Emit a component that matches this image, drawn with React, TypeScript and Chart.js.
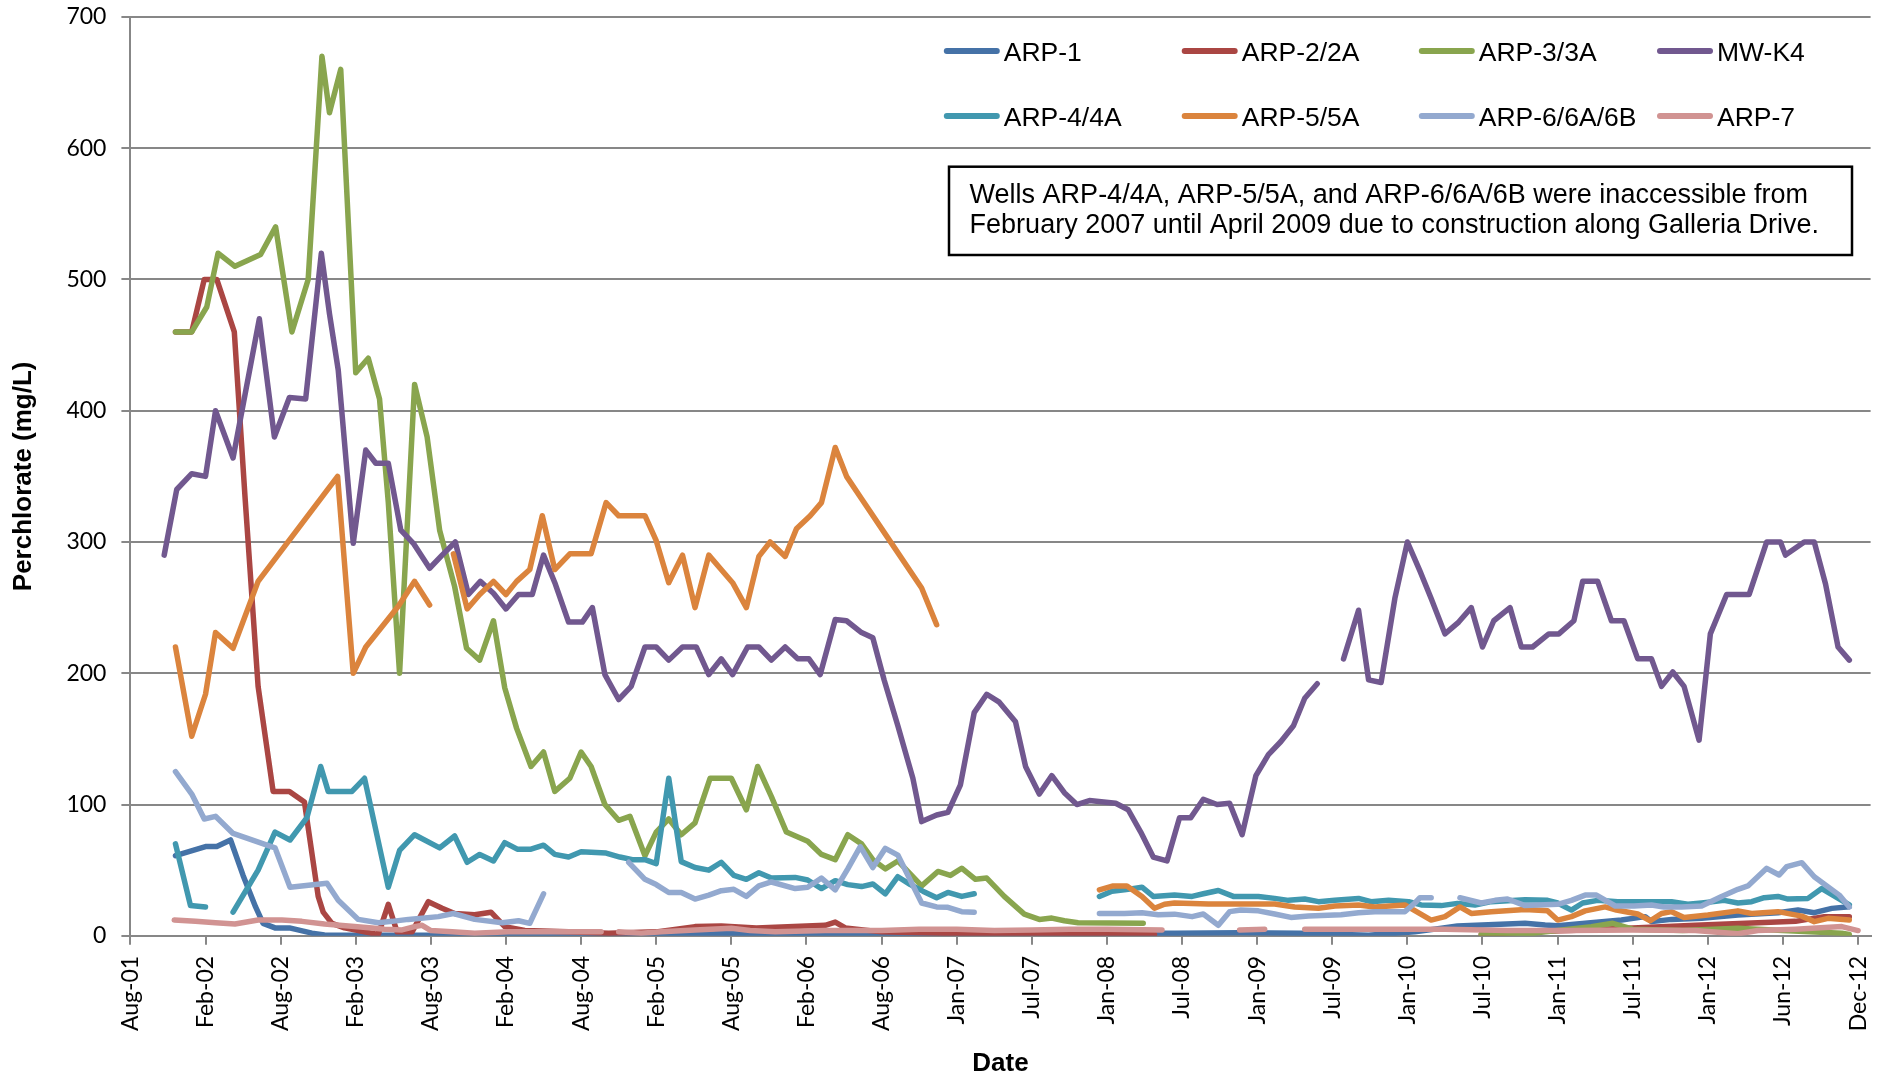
import React, { useEffect, useRef } from "react";
import { Chart, registerables } from "chart.js";

Chart.register(...registerables);

// Axis tick labels (one every 6 months along the x axis)
const tickLabels = [
  "Aug-01", "Feb-02", "Aug-02", "Feb-03", "Aug-03", "Feb-04", "Aug-04", "Feb-05",
  "Aug-05", "Feb-06", "Aug-06", "Jan-07", "Jul-07", "Jan-08", "Jul-08", "Jan-09",
  "Jul-09", "Jan-10", "Jul-10", "Jan-11", "Jul-11", "Jan-12", "Jun-12", "Dec-12",
];
const MONTHS_PER_TICK = 6;
const X_MAX = 139; // months after the Aug-01 tick
const Y_MAX = 700;
const Y_STEP = 100;

// x = months after the Aug-01 tick, y = perchlorate (mg/L); null = gap in record
type Pt = [number, number] | null;

const arp1: Pt[] = [
  [3.6, 61], [5.0, 65], [6.0, 68], [6.9, 68], [8.0, 73], [9.0, 46], [10.0, 22], [10.6, 9.5],
  [11.55, 6], [12.7, 6], [14.5, 2], [15.5, 0.6], [20, 0.5], [25, 0.5], [30, 0.8], [35, 0.5],
  [40, 0.5], [45, 1], [48, 2], [50, 1], [55, 1.5], [60, 1], [65, 1], [70, 1.5], [75, 2],
  [80, 2], [83.4, 2], [88.7, 2.4], [93.5, 2], [98.9, 0.5], [102.6, 3], [106, 7.5],
  [111.4, 9.5], [113, 8.2], [114, 7.7], [116.2, 9.5], [119.1, 12], [121, 14.6], [121.5, 10.8],
  [123.1, 12.5], [125.5, 13.3], [128.4, 15.8], [131.6, 17.6], [133.2, 19.6], [134.5, 17.6],
  [135.9, 20.9], [137.3, 22.2],
];

const arp2: Pt[] = [
  [3.6, 460], [4.9, 460], [5.9, 500], [6.9, 500], [8.3, 460], [9.15, 335], [10.2, 190],
  [11.4, 110], [12.7, 110], [13.9, 102], [15.0, 30], [15.4, 18], [16.1, 9.5], [17.1, 6],
  [18.7, 3], [19.8, 1], [20.6, 24], [21.3, 3], [22.5, 3], [23.8, 26], [24.9, 21], [25.9, 17],
  [27.5, 16], [28.8, 18], [29.9, 7], [31.5, 4], [35, 3], [38.2, 2], [42, 3], [45.1, 7],
  [47.2, 7.5], [50, 6], [53, 7], [55.5, 8], [56.3, 10.5], [57.1, 6], [60, 3], [65, 2],
  [70, 2], [75, 1.5], [81.8, 1], null,
  [107.9, 1], [111.4, 3], [115, 4], [120, 6], [125, 8], [130, 10], [133, 11], [135.3, 14.6],
  [137.3, 14.6],
];

const arp3: Pt[] = [
  [3.6, 460], [4.9, 460], [6.1, 479], [7.0, 520], [8.35, 510], [10.4, 519], [11.6, 540],
  [12.9, 460], [14.2, 500], [15.3, 670], [15.9, 627], [16.8, 660], [18.0, 429], [19.0, 440],
  [19.9, 409], [20.6, 330], [21.5, 200], [22.7, 420], [23.7, 380], [24.7, 309], [25.9, 266],
  [26.85, 219], [27.9, 210], [29.0, 240], [29.9, 189], [30.85, 158], [32.0, 129], [33.0, 140],
  [33.9, 110], [35.1, 120], [36.0, 140], [36.8, 129], [37.9, 100], [39.0, 88], [39.9, 91],
  [41.1, 61], [42.0, 79], [43.0, 89], [44.0, 77], [45.1, 86], [46.3, 120], [48.0, 120],
  [49.2, 96], [50.1, 129], [51.2, 106], [52.4, 79], [54.1, 72], [55.2, 62], [56.3, 58],
  [57.3, 77], [58.4, 70], [59.3, 58], [60.3, 51], [61.3, 57], [63.2, 38], [64.5, 49],
  [65.5, 46], [66.4, 51.5], [67.5, 43], [68.4, 44], [69.8, 30], [71.4, 16.5], [72.6, 12.5],
  [73.6, 13.5], [74.6, 11.5], [75.7, 10], [80.9, 9.5], null,
  [107.9, 1], [112, 2], [116.7, 7], [118.4, 9.5], [120, 5], [124, 4], [128.4, 5.7], [132, 4],
  [136.7, 2], [137.3, 1],
];

const mwK4: Pt[] = [
  [2.7, 290], [3.7, 340], [4.9, 352], [6.0, 350], [6.8, 400], [8.2, 364], [10.3, 470],
  [11.5, 380], [12.7, 410], [14.0, 409], [15.25, 520], [15.9, 474], [16.6, 431], [17.8, 299],
  [18.8, 370], [19.6, 360], [20.6, 360], [21.6, 309], [22.6, 299], [23.9, 280], [24.9, 290],
  [25.95, 300], [27.0, 260], [27.95, 270], [29.0, 261], [30.0, 249], [31.0, 260], [32.1, 260],
  [33.0, 290], [33.9, 269], [35.0, 239], [36.1, 239], [36.9, 250], [37.9, 199], [39.0, 180],
  [40.0, 190], [41.1, 220], [42.0, 220], [43.0, 210], [44.1, 220], [45.2, 220], [46.2, 199],
  [47.2, 211], [48.1, 199], [49.3, 220], [50.2, 220], [51.2, 210], [52.3, 220], [53.3, 211],
  [54.2, 211], [55.1, 199], [56.3, 241], [57.2, 240], [58.4, 231], [59.3, 227], [60.2, 195],
  [61.3, 160], [62.5, 120], [63.2, 87], [64.4, 92], [65.3, 94], [66.3, 115], [67.4, 170],
  [68.4, 184], [69.4, 178], [70.7, 163], [71.5, 129], [72.6, 108], [73.6, 122], [74.6, 109],
  [75.6, 100], [76.6, 103], [78.7, 101], [79.7, 96], [80.7, 79], [81.7, 60], [82.8, 57],
  [83.8, 90], [84.7, 90], [85.7, 104], [86.8, 100], [87.8, 101], [88.8, 77], [89.9, 122],
  [90.9, 138], [91.9, 148], [92.9, 160], [93.8, 181], [94.8, 192], null,
  [96.9, 211], [98.1, 248], [98.9, 195], [99.9, 193], [101.0, 257], [102.0, 300], [103.0, 278],
  [103.9, 257], [105.0, 230], [106.1, 239], [107.1, 250], [108.0, 220], [108.9, 240],
  [110.2, 250], [111.1, 220], [112.0, 220], [113.3, 230], [114.1, 230], [115.3, 240],
  [116.0, 270], [117.2, 270], [118.3, 240], [119.3, 240], [120.4, 211], [121.5, 211],
  [122.3, 190], [123.2, 201], [124.1, 190], [125.3, 149], [126.2, 230], [127.5, 260],
  [129.3, 260], [130.7, 300], [131.8, 300], [132.2, 290], [133.7, 300], [134.5, 300],
  [135.4, 268], [136.4, 220], [137.3, 210],
];

const arp4: Pt[] = [
  [3.6, 70], [4.8, 23], [6.0, 22], null,
  [8.2, 18], [10.2, 50], [11.55, 79], [12.75, 73], [14.1, 90], [15.2, 129], [15.8, 110],
  [17.7, 110], [18.7, 120], [20.6, 37], [21.5, 65], [22.7, 77], [24.7, 67], [25.9, 76],
  [26.9, 56], [27.9, 62], [29.0, 57], [29.9, 71], [30.9, 66], [32.0, 66], [33.0, 69],
  [33.9, 62], [35.0, 60], [36.0, 64], [38.0, 63], [39.1, 60], [40.1, 58], [41.1, 58],
  [42.0, 55], [43.0, 120], [44.0, 56.5], [45.1, 52], [46.2, 50], [47.2, 56], [48.2, 46],
  [49.2, 43], [50.2, 48], [51.2, 44], [53.1, 44.5], [54.1, 42.5], [55.2, 36], [56.3, 42],
  [57.3, 39], [58.4, 37.5], [59.3, 39.5], [60.3, 32], [61.3, 45], [62.3, 39], [63.3, 34],
  [64.4, 29], [65.3, 33], [66.4, 30], [67.4, 32], null,
  [77.4, 30], [78.4, 34], [79.4, 35], [80.8, 37], [81.7, 30], [83.4, 31], [84.8, 30],
  [85.7, 32], [86.9, 34.5], [88.1, 30], [90.1, 30], [91.4, 28.5], [92.5, 27], [93.8, 28],
  [94.9, 26], [96.2, 27], [98.1, 28.5], [99.1, 26], [100.5, 27], [102.1, 26], [103.1, 23.5],
  [104.7, 23], [106.0, 24.7], [107.4, 23.5], [108.7, 26], [111.4, 27.5], [113.2, 27],
  [114.0, 25], [115.1, 19.6], [116.0, 25], [117.2, 27], [118.8, 26], [123.1, 26], [124.4, 24],
  [125.5, 25], [127.3, 27], [128.4, 25], [129.5, 26], [130.5, 29], [131.6, 30], [132.4, 28],
  [134.0, 28.5], [135.1, 36], [137.3, 23.5],
];

const arp5: Pt[] = [
  [3.6, 220], [4.9, 152], [6.0, 184], [6.8, 231], [8.2, 219], [10.2, 270], [16.55, 350],
  [17.8, 200], [18.8, 220], [21.4, 251], [22.7, 270], [23.9, 252], null,
  [25.8, 291], [26.9, 249], [27.9, 260], [29.0, 270], [30.0, 260], [30.85, 270], [31.9, 279],
  [32.9, 320], [33.9, 279], [35.1, 291], [36.8, 291], [38.0, 330], [39.0, 320], [41.1, 320],
  [42.0, 301], [43.0, 269], [44.1, 290], [45.1, 250], [46.2, 290], [47.1, 280], [48.1, 269],
  [49.2, 250], [50.2, 289], [51.1, 300], [52.3, 289], [53.2, 310], [54.3, 320], [55.2, 330],
  [56.3, 372], [57.2, 350], [58.4, 333], [60.3, 306], [63.2, 265], [64.4, 237], null,
  [77.4, 35], [78.5, 38], [79.6, 38], [80.8, 30], [81.8, 21], [82.6, 24], [83.4, 25],
  [84.8, 24.7], [86.1, 24.2], [88.7, 24.2], [91.4, 24.2], [93.0, 22], [94.9, 21], [96.2, 22.7],
  [98.1, 23.5], [99.4, 22], [101.8, 23.5], [103.9, 12], [105.0, 14.6], [106.2, 22],
  [107.1, 17], [108.7, 18.4], [111.4, 20], [113.2, 19], [114.0, 12], [115.1, 14.6],
  [116.2, 19], [117.8, 22], [118.7, 19.6], [120.4, 16.6], [121.4, 11.5], [122.3, 17],
  [123.1, 18.4], [124.1, 14], [126.0, 15.8], [128.4, 19], [129.5, 17], [131.6, 18.4],
  [133.5, 15], [134.5, 10.8], [135.6, 13.3], [137.3, 12],
];

const arp6: Pt[] = [
  [3.6, 125], [4.9, 108], [5.9, 89], [6.8, 91], [8.2, 78], [11.55, 67], [12.75, 37],
  [15.7, 40], [16.6, 27], [18.2, 12.5], [19.8, 10], [20.9, 11], [22.2, 12.5], [24.6, 14.6],
  [25.8, 17], [27.5, 12.5], [29.7, 10], [31.0, 11.5], [31.9, 9.5], [33.0, 32], null,
  [39.8, 56], [41.1, 43], [42.0, 39], [43.0, 33], [44.0, 33], [45.1, 28], [46.2, 31],
  [47.2, 34.4], [48.2, 35.4], [49.2, 30], [50.2, 38], [51.2, 41], [53.1, 36], [54.1, 37],
  [55.2, 44], [56.3, 35], [57.3, 51], [58.3, 68], [59.3, 52], [60.3, 66.6], [61.3, 61.5],
  [63.2, 25], [64.4, 22], [65.3, 21.7], [66.4, 18.4], [67.4, 18], null,
  [77.4, 17], [79.4, 17], [80.8, 17.6], [82.1, 16], [83.4, 16.5], [84.8, 14.6], [85.7, 16.6],
  [86.9, 8], [87.8, 18.4], [88.7, 19.6], [90.1, 19], [91.4, 16.6], [92.7, 14], [94.1, 15],
  [96.7, 16], [98.1, 17.6], [99.4, 18.4], [101.8, 18.4], [102.6, 25], [103.0, 29],
  [103.9, 29], null,
  [106.2, 29], [107.9, 25], [109, 27], [110, 28], [111.4, 23], [114, 24], [115.1, 27],
  [116.2, 31], [117.1, 31], [118.6, 22.7], [120.1, 22.7], [121.5, 23.5], [122.5, 22],
  [123.9, 22], [125.5, 22.7], [127.1, 30], [128.4, 35.4], [129.2, 38], [130.7, 51.4],
  [131.7, 46.3], [132.3, 52.7], [133.5, 55.7], [134.5, 45], [135.5, 38], [136.5, 31],
  [137.3, 22],
];

const arp7: Pt[] = [
  [3.5, 12], [5.2, 11], [6.8, 10], [8.35, 9], [10.2, 12], [12.1, 12], [13.7, 11], [15.5, 9],
  [17.9, 7], [19.3, 6], [20.3, 5], [21.7, 4.5], [22.7, 7], [23.3, 8], [24.0, 4], [25.7, 3],
  [27.5, 2], [30.2, 3], [37.6, 3], null,
  [39, 3], [40.8, 2], [42.4, 3], [45.1, 4.4], [48, 5.7], [49.5, 4], [51.5, 3], [55.5, 4],
  [58, 4], [60, 4], [63, 5], [66, 5], [69, 4], [72, 4.5], [75, 5], [78, 5], [82.4, 4.4], null,
  [88.6, 4.5], [90.6, 5], null,
  [93.8, 5], [100, 5], [105, 5], [110, 4], [115, 4], [120, 4.4], [125, 4], [128.4, 1.5],
  [130, 4], [133, 5], [136.7, 7], [138, 4],
];

const seriesNames = ["ARP-1", "ARP-2/2A", "ARP-3/3A", "MW-K4", "ARP-4/4A", "ARP-5/5A", "ARP-6/6A/6B", "ARP-7"];
const seriesData = [arp1, arp2, arp3, mwK4, arp4, arp5, arp6, arp7];
const seriesColors = ["#4572A7", "#AA4643", "#89A54E", "#71588F", "#4198AF", "#DB843D", "#93A9CF", "#D19392"];

const noteLines = [
  "Wells ARP-4/4A, ARP-5/5A, and ARP-6/6A/6B were inaccessible from",
  "February 2007 until April 2009 due to construction along Galleria Drive.",
];

const GRID = "#878787";
const W = 1891;
const H = 1078;

function toData(pts: Pt[]) {
  const out: { x: number; y: number | null }[] = [];
  let lastX = 0;
  for (const p of pts) {
    if (p === null) out.push({ x: lastX + 0.05, y: null });
    else {
      out.push({ x: p[0], y: p[1] });
      lastX = p[0];
    }
  }
  return out;
}

const legendCols = [943.8, 1181.7, 1418.8, 1657];
const legendRows = [51, 116];

const overlayPlugin = {
  id: "overlay",
  afterDraw(chart: any) {
    const ctx = chart.ctx as CanvasRenderingContext2D;
    ctx.save();
    // legend
    chart.data.datasets.forEach((ds: any, i: number) => {
      const x = legendCols[i % 4];
      const y = legendRows[Math.floor(i / 4)];
      ctx.strokeStyle = ds.borderColor;
      ctx.lineWidth = 6;
      ctx.lineCap = "round";
      ctx.beginPath();
      ctx.moveTo(x + 3, y);
      ctx.lineTo(x + 53, y);
      ctx.stroke();
      ctx.fillStyle = "#000";
      ctx.font = '26.5px "Liberation Sans", Arial, sans-serif';
      ctx.textAlign = "left";
      ctx.textBaseline = "alphabetic";
      ctx.fillText(ds.label, x + 60, y + 9.5);
    });
    // note box
    const bx = 949, by = 166.7, bw = 903, bh = 88.3;
    ctx.fillStyle = "#fff";
    ctx.fillRect(bx, by, bw, bh);
    ctx.strokeStyle = "#000";
    ctx.lineWidth = 2.5;
    ctx.lineCap = "butt";
    ctx.strokeRect(bx, by, bw, bh);
    ctx.fillStyle = "#000";
    ctx.font = '27px "Liberation Sans", Arial, sans-serif';
    ctx.fillText(noteLines[0], 969.6, 202.7);
    ctx.fillText(noteLines[1], 969.6, 233.3);
    ctx.restore();
  },
};

export default function App() {
  const ref = useRef<HTMLCanvasElement | null>(null);

  useEffect(() => {
    if (!ref.current) return;
    const chart = new Chart(ref.current, {
      type: "line",
      data: {
        datasets: seriesData.map((s, i) => ({
          label: seriesNames[i],
          data: toData(s),
          borderColor: seriesColors[i],
          backgroundColor: seriesColors[i],
          borderWidth: 5.5,
          pointRadius: 0,
          pointHoverRadius: 0,
          tension: 0,
          spanGaps: false,
          fill: false,
          borderJoinStyle: "round",
          borderCapStyle: "round",
          order: seriesData.length - i,
        })),
      },
      options: {
        animation: false,
        responsive: false,
        devicePixelRatio: 1,
        parsing: false as any,
        layout: { padding: { top: 16.9, right: 20.4, bottom: 0, left: 0 } },
        plugins: {
          legend: { display: false },
          tooltip: { enabled: false },
        },
        scales: {
          x: {
            type: "linear",
            min: 0,
            max: X_MAX,
            afterBuildTicks: (scale: any) => {
              scale.ticks = tickLabels.map((_, i) => ({ value: i * MONTHS_PER_TICK }));
            },
            afterFit: (scale: any) => {
              scale.height = H - 935.8;
              scale.paddingLeft = 0;
              scale.paddingRight = 0;
            },
            grid: {
              drawOnChartArea: false,
              drawTicks: true,
              tickLength: 9,
              color: GRID,
              lineWidth: 2,
            },
            border: { display: true, color: GRID, width: 2 },
            ticks: {
              autoSkip: false,
              minRotation: 90,
              maxRotation: 90,
              padding: 11,
              color: "#000",
              font: { family: "Lato", size: 23 },
              callback: (_v: any, idx: number) => tickLabels[idx] ?? "",
            },
            title: {
              display: true,
              text: "Date",
              color: "#000",
              font: { family: "Liberation Sans", size: 26, weight: "bold", lineHeight: 1 },
              padding: { top: 0, bottom: 1.3 },
            },
          },
          y: {
            min: 0,
            max: Y_MAX,
            afterFit: (scale: any) => {
              scale.width = 130.4;
              scale.paddingTop = 0;
              scale.paddingBottom = 0;
            },
            grid: {
              color: GRID,
              lineWidth: 2,
              tickLength: 9,
              drawTicks: true,
            },
            border: { display: true, color: GRID, width: 2 },
            ticks: {
              stepSize: Y_STEP,
              padding: 15,
              color: "#000",
              font: { family: "Lato", size: 23 },
            },
            title: {
              display: true,
              text: "Perchlorate (mg/L)",
              color: "#000",
              font: { family: "Liberation Sans", size: 26, weight: "bold", lineHeight: 1 },
              padding: { top: 10.4, bottom: 0 },
            },
          },
        },
      },
      plugins: [overlayPlugin],
    } as any);
    return () => chart.destroy();
  }, []);

  return (
    <div style={{ position: "fixed", left: 0, top: 0, width: W, height: H, background: "#fff" }}>
      <canvas ref={ref} width={W} height={H} style={{ display: "block", width: W, height: H }} />
    </div>
  );
}
